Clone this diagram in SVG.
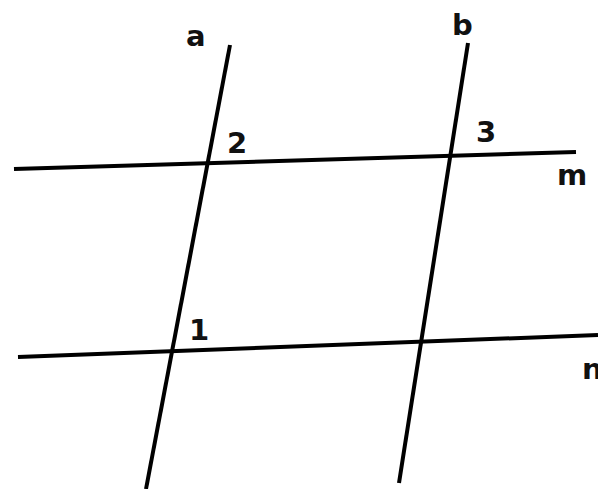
<svg xmlns="http://www.w3.org/2000/svg" width="598" height="489" viewBox="0 0 598 489">
<style>
.ln{stroke:#000;stroke-width:4;fill:none;stroke-linecap:butt}
.lb{font-family:"DejaVu Sans",Verdana,sans-serif;font-weight:bold;font-size:29px;fill:#111}
</style>
<rect width="598" height="489" fill="#fff"/>
<g id="connectors">
<line id="line-a" class="ln" x1="230" y1="45" x2="146" y2="489"/>
<line id="line-b" class="ln" x1="468" y1="43" x2="399" y2="483"/>
<line id="line-m" class="ln" x1="14" y1="169" x2="576" y2="152"/>
<line id="line-n" class="ln" x1="18" y1="357" x2="598" y2="335"/>
</g>
<g id="label-a"><text class="lb" x="186" y="46">a</text></g>
<g id="label-b"><text class="lb" x="452" y="35">b</text></g>
<g id="label-2"><text class="lb" x="227" y="153">2</text></g>
<g id="label-3"><text class="lb" x="476" y="142">3</text></g>
<g id="label-m"><text class="lb" x="557" y="185">m</text></g>
<g id="label-1"><text class="lb" x="189" y="340">1</text></g>
<g id="label-n"><text class="lb" x="582" y="379">n</text></g>
</svg>
